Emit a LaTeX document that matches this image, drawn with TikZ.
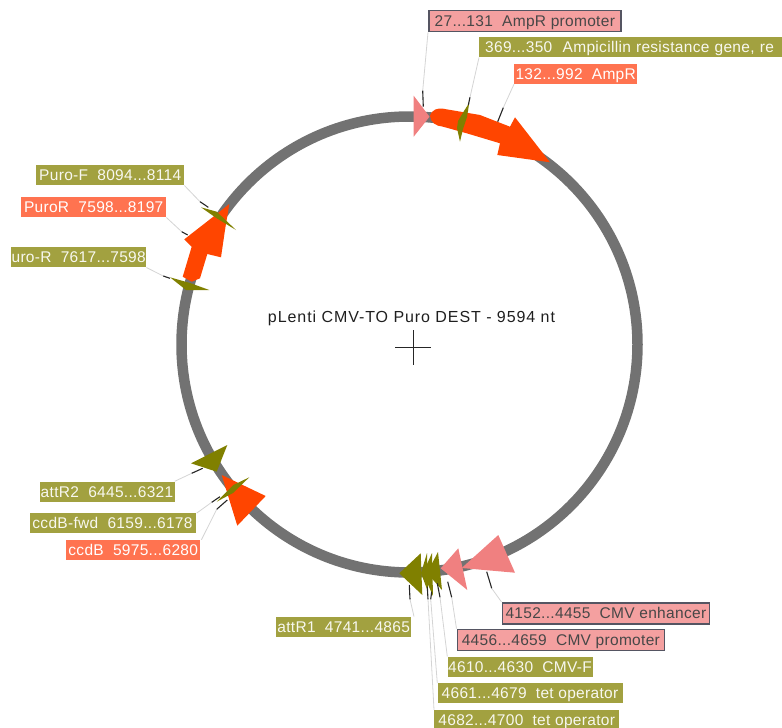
\documentclass[tikz,border=0pt]{standalone}
\usepackage{fontspec}
\usetikzlibrary{calc}
\setmainfont{Liberation Sans}
\newfontfamily\labfont[LetterSpace=2]{Liberation Sans}
\newfontfamily\titlefont[LetterSpace=5.8]{Liberation Sans}
\definecolor{ringgray}{HTML}{727272}
\definecolor{featolive}{HTML}{808000}
\definecolor{labolive}{HTML}{A2A140}
\definecolor{featred}{HTML}{FF4500}
\definecolor{labred}{HTML}{FF7350}
\definecolor{featpink}{HTML}{F08080}
\definecolor{labpink}{HTML}{F4A0A0}
\definecolor{pinkedge}{HTML}{555562}
\definecolor{leadgray}{HTML}{D4D4D4}
\tikzset{
  lab/.style={anchor=west,inner sep=0pt,minimum height=20pt,text height=11pt,text depth=0pt,font=\labfont\fontsize{15.5}{17}\selectfont,text=white},
  labo/.style={lab,fill=labolive,text=white!92!labolive},
  labr/.style={lab,fill=labred},
  labp/.style={lab,fill=labpink,draw=pinkedge,line width=1.7pt,minimum height=21pt,text=black!72},
  lead/.style={draw=leadgray,line width=0.8pt},
  tickline/.style={draw=black!85,line width=1.1pt},
  folive/.style={fill=featolive},
  fred/.style={fill=featred},
  fpink/.style={fill=featpink}
}
\begin{document}
\begin{tikzpicture}[x=1pt,y=-1pt]
\useasboundingbox (0,0) rectangle (782,728);
% ring
\node[circle,draw=ringgray,line width=10.5pt,minimum size=456pt,inner sep=0pt] (ring) at (409.5,344.5) {};
% centre
\node[anchor=base,inner sep=0pt,font=\titlefont\fontsize{16}{18}\selectfont,text=black!88] (title) at (411.5,322) {pLenti CMV-TO Puro DEST - 9594 nt};
\coordinate (cw) at (395,347.7); \coordinate (ce) at (430.7,347.7);
\coordinate (cn) at (413.3,330); \coordinate (cs) at (413.3,365);
\draw[line width=1pt,black!85] (cw) -- (ce) (cn) -- (cs);
% features
\fill[fpink] (413.7,95.7) -- (429.5,116.7) -- (413.7,136.7) -- cycle;
\fill[fred] (430,116) .. controls (432,109) and (438,108) .. (443,108.7) -- (480,115) -- (510,126.7) -- (515,117.3) -- (550,162.3) -- (497.3,155) -- (500,143.3) -- (466.7,133.3) -- (443,126.7) .. controls (436,126) and (431,123) .. (430,116) -- cycle;
\fill[folive] (469.3,102.7) -- (467,117) -- (463,129) -- (460,141.7) -- (457,128) -- (458,121) -- (464,111) -- cycle;
\fill[fred] (229.3,204) -- (225,230) -- (221,257.3) -- (207.3,254) -- (200,278.3) -- (191.7,281.7) -- (182.7,276.7) -- (191.7,246.7) -- (184.3,239.3) -- (213.3,216.7) -- cycle;
\fill[folive] (201,207.3) -- (216.7,211.7) -- (236,230) -- (216.7,218.3) -- cycle;
\fill[folive] (170,277.3) -- (190,283) -- (209.3,290) -- (186,290) -- cycle;
\fill[featolive] (191,463.3) -- (227.3,445) -- (216.7,471.7) -- cycle;
\fill[fred] (221.7,475) -- (265.7,496) -- (237.3,525.7) -- cycle;
\fill[folive] (249.3,477.3) -- (233.3,485) -- (216.7,501.7) -- (233,493) -- cycle;
\fill[featolive] (399.3,573.3) -- (420.7,553.3) -- (422.3,595) -- cycle;
\fill[featolive] (421,573) -- (427,553) -- (428,592) -- cycle;
\fill[featolive] (423,573) -- (432,553) -- (433,596) -- cycle;
\fill[featolive] (427,573) -- (438,552) -- (442,590) -- cycle;
\fill[fpink] (440.7,568.3) -- (458.3,548.3) -- (467.3,590) -- cycle;
\fill[fpink] (461.7,568) -- (498.3,535) -- (515,572.7) -- cycle;
% labels
\node[labp,minimum width=192pt] (l1) at (428,21) {27...131\ \ AmpR promoter};
\begin{scope}
\clip (0,0) rectangle (782,728);
\node[labo,minimum width=303pt,text width=297pt,align=left] (l2) at (479,47.3) {\hspace*{3pt}369...350\ \ Ampicillin resistance gene, re};
\end{scope}
\node[labr,minimum width=123pt] (l3) at (514,74) {132...992\ \ AmpR};
\node[labo,minimum width=148pt] (l4) at (36,175.3) {Puro-F\ \ 8094...8114};
\node[labr,minimum width=145pt] (l5) at (21,207.3) {PuroR\ \ 7598...8197};
\node[labo,minimum width=135pt] (l6) at (11,257.3) {uro-R\ \ 7617...7598};
\node[labo,minimum width=135pt] (l7) at (39.3,491.5) {attR2\ \ 6445...6321};
\node[labo,minimum width=166pt] (l8) at (29.3,523.3) {ccdB-fwd\ \ 6159...6178};
\node[labr,minimum width=134pt] (l9) at (66,550) {ccdB\ \ 5975...6280};
\node[labo,minimum width=135pt] (l10) at (276,626.7) {attR1\ \ 4741...4865};
\node[labp,minimum width=207pt] (l11) at (501.5,613.3) {4152...4455\ \ CMV enhancer};
\node[labp,minimum width=207pt] (l12) at (456.5,640) {4456...4659\ \ CMV promoter};
\node[labo,minimum width=145pt] (l13) at (447.3,666.7) {4610...4630\ \ CMV-F};
\node[labo,minimum width=185pt] (l14) at (437.3,693.3) {4661...4679\ \ tet operator};
\node[labo,minimum width=185pt] (l15) at (434,720) {4682...4700\ \ tet operator};
% leader elbows and feature ends
\coordinate (k1) at (422.7,90.7);  \coordinate (e1) at (423.3,106.7);
\coordinate (k2) at (470,97.3);    \coordinate (e2) at (468.3,105);
\coordinate (k3) at (503.3,107.7); \coordinate (e3) at (497.7,121.7);
\coordinate (k4) at (200,201.7);   \coordinate (e4) at (208.3,207.3);
\coordinate (k5) at (181.7,231.7); \coordinate (e5) at (187.7,235);
\coordinate (k6) at (163.3,276);   \coordinate (e6) at (170,278.3);
\coordinate (k7) at (191.7,473.3); \coordinate (e7) at (202.7,468.3);
\coordinate (k8) at (211.7,502.3); \coordinate (e8) at (220,496.7);
\coordinate (k9) at (216.7,509.3); \coordinate (e9) at (227.3,500);
\coordinate (k10) at (410,599.3);  \coordinate (e10) at (409.3,585);
\coordinate (k11) at (491.7,588.3);\coordinate (e11) at (486.7,571.7);
\coordinate (k12) at (451.7,597.3);\coordinate (e12) at (447.7,581.7);
\coordinate (k13) at (440,597.3);  \coordinate (e13) at (437.3,583.3);
\coordinate (k14) at (430.7,599.3);\coordinate (e14) at (431.7,591.7);
\coordinate (k15) at (428,599.3);  \coordinate (e15) at (427.3,586.7);
\path[lead] (l1.south west) -- (k1);
\path[lead] (l2.south west) -- (k2);
\path[lead] (l3.south west) -- (k3);
\path[lead] (l4.south east) -- (k4);
\path[lead] (l5.south east) -- (k5);
\path[lead] (l6.south east) -- (k6);
\path[lead] (l7.north east) -- (k7);
\path[lead] ($(l8.north east)+(1,0)$) -- (k8);
\path[lead] ($(l9.north east)+(1,0)$) -- (k9);
\path[lead] ($(l10.north east)+(2.6,0)$) -- (k10);
\path[lead] (l11.north west) -- (k11);
\path[lead] (l12.north west) -- (k12);
\path[lead] (l13.north west) -- (k13);
\path[lead] (l14.north west) -- (k14);
\path[lead] (l15.north west) -- (k15);
\foreach \i in {1,...,15} { \path[tickline] (k\i) -- (e\i); }
\end{tikzpicture}
\end{document}
